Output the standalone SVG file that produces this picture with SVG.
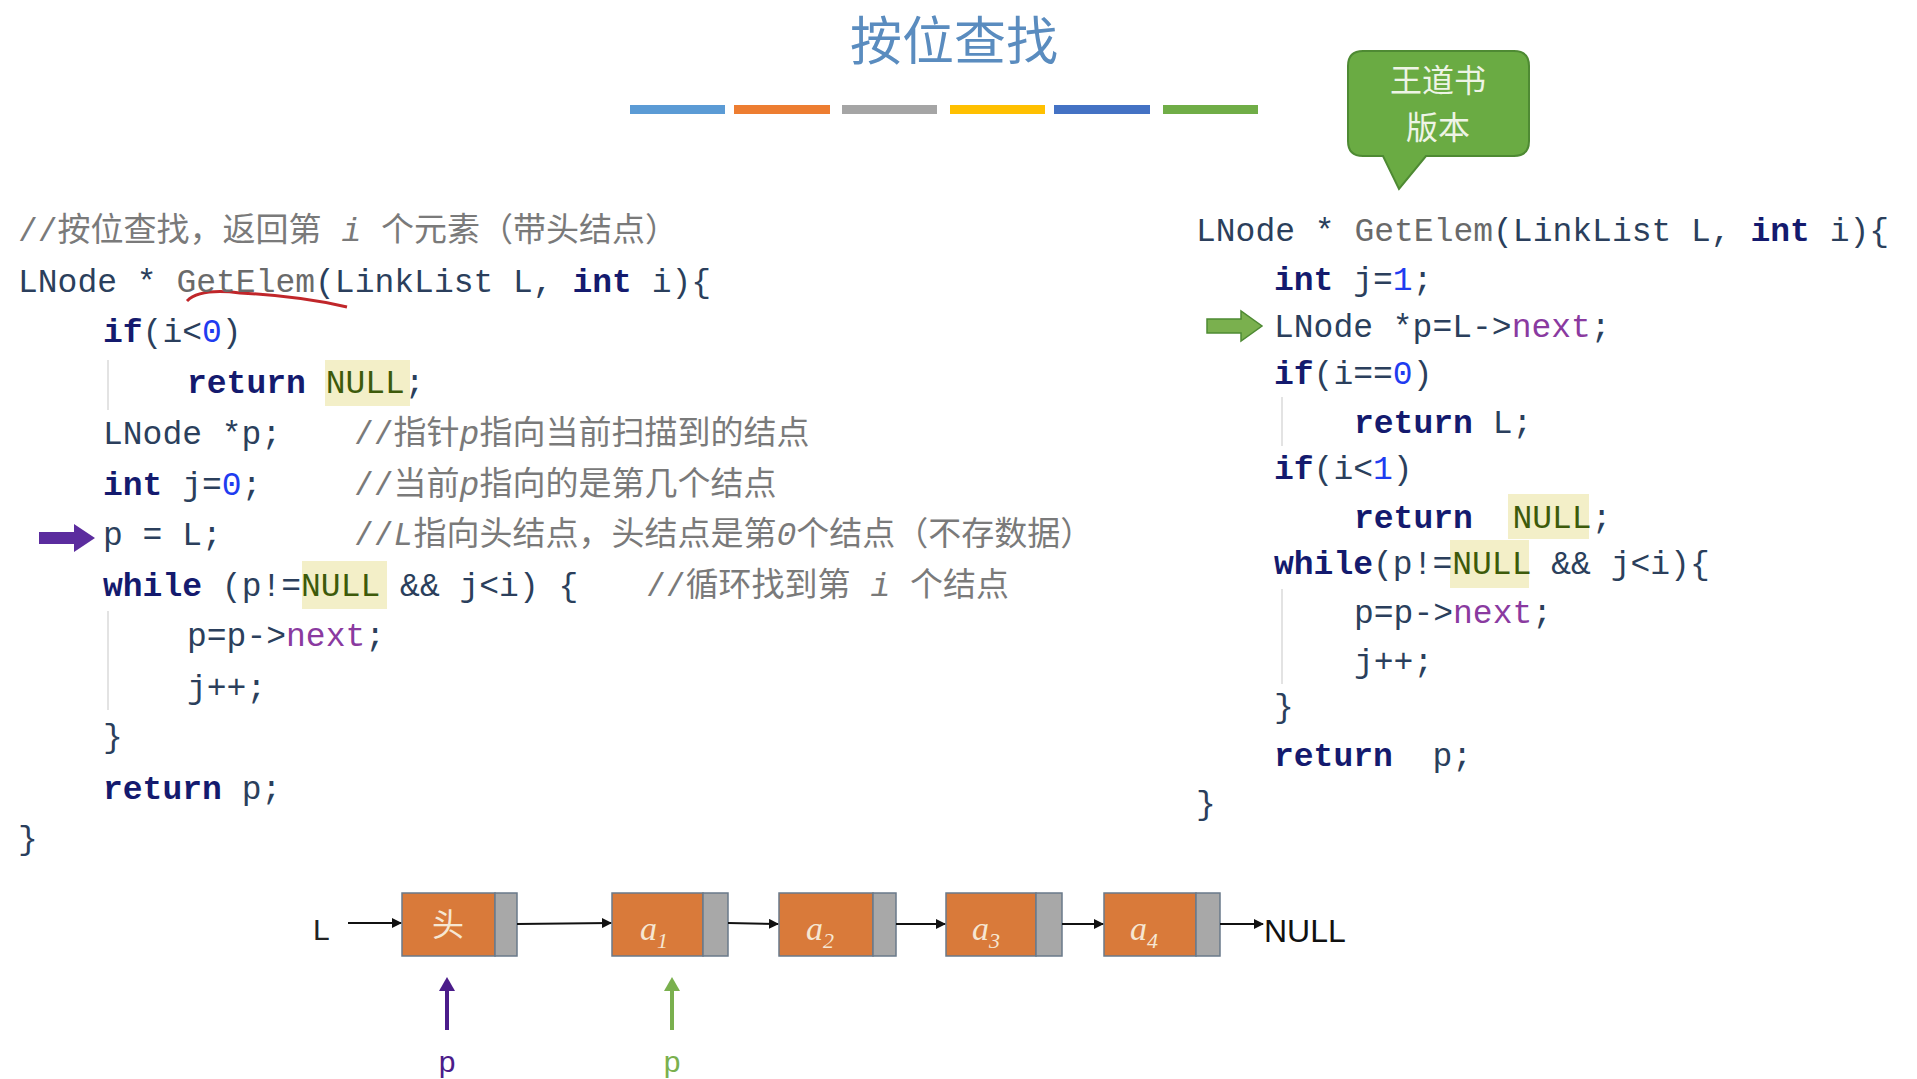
<svg xmlns="http://www.w3.org/2000/svg" width="1917" height="1079" viewBox="0 0 1917 1079">
<style>
.code{font-family:"Liberation Mono","Noto Sans CJK SC",monospace;font-size:33px;fill:#2b3f5c;white-space:pre}
.kw{font-weight:bold;fill:#141a6e}
.cm{fill:#7a7a7a}
.num{fill:#1f3cf0}
.nl{fill:#3d5a0a}
.nx{fill:#8a3aa0}
.fn{fill:#6a6a6a}
.hl{fill:#f3efc8}
.guide{stroke:#e3e3e3;stroke-width:2}
.node{fill:#d97a3a;stroke:#6a7a8a;stroke-width:1.5}
.ptr{fill:#a8a8a8;stroke:#6a7a8a;stroke-width:1.5}
.lbl{font-family:"Liberation Serif",serif;font-style:italic;font-size:34px;fill:#f6e7d3}
.link{stroke:#111;stroke-width:2;fill:none;marker-end:url(#ah)}
</style>
<defs>
<marker id="ah" markerWidth="10" markerHeight="10" refX="9" refY="5" orient="auto" markerUnits="userSpaceOnUse"><path d="M0,0 L10,5 L0,10 z" fill="#111"/></marker>
<marker id="ahp" markerWidth="14" markerHeight="16" refX="7" refY="8" orient="auto" markerUnits="userSpaceOnUse"><path d="M0,0 L14,8 L0,16 z" fill="#4b1c8a"/></marker>
<marker id="ahg" markerWidth="14" markerHeight="16" refX="7" refY="8" orient="auto" markerUnits="userSpaceOnUse"><path d="M0,0 L14,8 L0,16 z" fill="#7ab04e"/></marker>
</defs>
<rect width="1917" height="1079" fill="#fff"/>
<g id="title">
<text x="954" y="60" text-anchor="middle" font-family="Noto Sans CJK SC,sans-serif" font-size="52" fill="#5a8cbf">按位查找</text>
<rect x="630" y="105" width="95" height="9" fill="#5b9bd5"/>
<rect x="734" y="105" width="96" height="9" fill="#ed7d31"/>
<rect x="842" y="105" width="95" height="9" fill="#a5a5a5"/>
<rect x="950" y="105" width="95" height="9" fill="#ffc000"/>
<rect x="1054" y="105" width="96" height="9" fill="#4472c4"/>
<rect x="1163" y="105" width="95" height="9" fill="#70ad47"/>
</g>
<g id="callout">
<path d="M1363,51 H1514 Q1529,51 1529,66 V141 Q1529,156 1514,156 H1426 L1399,189 L1383,156 H1363 Q1348,156 1348,141 V66 Q1348,51 1363,51 Z" fill="#6aab43" stroke="#4e8a33" stroke-width="2"/>
<text x="1438" y="92" text-anchor="middle" font-family="Noto Sans CJK SC,sans-serif" font-size="32" fill="#eef4e6">王道书</text>
<text x="1438" y="139" text-anchor="middle" font-family="Noto Sans CJK SC,sans-serif" font-size="32" fill="#eef4e6">版本</text>
</g>
<g id="left-code">
<rect class="hl" x="325" y="360" width="85" height="46"/>
<rect class="hl" x="302" y="561" width="85" height="48"/>
<line class="guide" x1="108" y1="360" x2="108" y2="410"/>
<line class="guide" x1="108" y1="611" x2="108" y2="710"/>
<path d="M187,301 Q200,288 240,293 Q300,296 347,307" stroke="#c0262a" stroke-width="3" fill="none"/>
<text class="code"><tspan x="18" y="241" class="cm">//按位查找，返回第 <tspan font-style="italic">i</tspan> 个元素（带头结点）</tspan>
<tspan x="18" y="292">LNode * <tspan class="fn">GetElem</tspan>(LinkList L, <tspan class="kw">int</tspan> i){</tspan>
<tspan x="103" y="342"><tspan class="kw">if</tspan>(i&lt;<tspan class="num">0</tspan>)</tspan>
<tspan x="187" y="393"><tspan class="kw">return</tspan> <tspan class="nl">NULL</tspan>;</tspan>
<tspan x="103" y="444">LNode *p;</tspan><tspan x="354" y="444" class="cm">//指针<tspan font-style="italic">p</tspan>指向当前扫描到的结点</tspan>
<tspan x="103" y="495"><tspan class="kw">int</tspan> j=<tspan class="num">0</tspan>;</tspan><tspan x="354" y="495" class="cm">//当前<tspan font-style="italic">p</tspan>指向的是第几个结点</tspan>
<tspan x="103" y="545">p = L;</tspan><tspan x="354" y="545" class="cm">//<tspan font-style="italic">L</tspan>指向头结点，头结点是第<tspan font-style="italic">0</tspan>个结点（不存数据）</tspan>
<tspan x="103" y="596"><tspan class="kw">while</tspan> (p!=<tspan class="nl">NULL</tspan> &amp;&amp; j&lt;i) {</tspan><tspan x="646" y="596" class="cm">//循环找到第 <tspan font-style="italic">i</tspan> 个结点</tspan>
<tspan x="187" y="646">p=p-&gt;<tspan class="nx">next</tspan>;</tspan>
<tspan x="187" y="698">j++;</tspan>
<tspan x="103" y="747">}</tspan>
<tspan x="103" y="799"><tspan class="kw">return</tspan> p;</tspan>
<tspan x="18" y="849">}</tspan></text>
<path d="M39,532 H74 V524 L95,538 L74,552 V544 H39 Z" fill="#5b2c9e"/>
</g>
<g id="right-code">
<rect class="hl" x="1508" y="494" width="81" height="45"/>
<rect class="hl" x="1450" y="540" width="79" height="48"/>
<line class="guide" x1="1282" y1="397" x2="1282" y2="446"/>
<line class="guide" x1="1282" y1="589" x2="1282" y2="684"/>
<text class="code"><tspan x="1196" y="241">LNode * <tspan class="fn">GetElem</tspan>(LinkList L, <tspan class="kw">int</tspan> i){</tspan>
<tspan x="1274" y="290"><tspan class="kw">int</tspan> j=<tspan class="num">1</tspan>;</tspan>
<tspan x="1274" y="337">LNode *p=L-&gt;<tspan class="nx">next</tspan>;</tspan>
<tspan x="1274" y="384"><tspan class="kw">if</tspan>(i==<tspan class="num">0</tspan>)</tspan>
<tspan x="1354" y="433"><tspan class="kw">return</tspan> L;</tspan>
<tspan x="1274" y="479"><tspan class="kw">if</tspan>(i&lt;<tspan class="num">1</tspan>)</tspan>
<tspan x="1354" y="528"><tspan class="kw">return</tspan>  <tspan class="nl">NULL</tspan>;</tspan>
<tspan x="1274" y="574"><tspan class="kw">while</tspan>(p!=<tspan class="nl">NULL</tspan> &amp;&amp; j&lt;i){</tspan>
<tspan x="1354" y="623">p=p-&gt;<tspan class="nx">next</tspan>;</tspan>
<tspan x="1354" y="672">j++;</tspan>
<tspan x="1274" y="717">}</tspan>
<tspan x="1274" y="766"><tspan class="kw">return</tspan>  p;</tspan>
<tspan x="1196" y="814">}</tspan></text>
<path d="M1207,319 H1241 V311 L1262,326 L1241,341 V333 H1207 Z" fill="#7ab04e" stroke="#4e8a33" stroke-width="1.5"/>
</g>
<g id="n-head"><rect class="node" x="402" y="893" width="93" height="63"/><rect class="ptr" x="495" y="893" width="22" height="63"/><text x="448" y="936" text-anchor="middle" font-family="Noto Sans CJK SC,sans-serif" font-size="32" fill="#f6e7d3">头</text></g>
<g id="n-a1"><rect class="node" x="612" y="893" width="91" height="63"/><rect class="ptr" x="703" y="893" width="25" height="63"/><text class="lbl" x="640" y="940">a<tspan font-size="22" dy="8">1</tspan></text></g>
<g id="n-a2"><rect class="node" x="779" y="893" width="94" height="63"/><rect class="ptr" x="873" y="893" width="23" height="63"/><text class="lbl" x="806" y="940">a<tspan font-size="22" dy="8">2</tspan></text></g>
<g id="n-a3"><rect class="node" x="946" y="893" width="90" height="63"/><rect class="ptr" x="1036" y="893" width="26" height="63"/><text class="lbl" x="972" y="940">a<tspan font-size="22" dy="8">3</tspan></text></g>
<g id="n-a4"><rect class="node" x="1104" y="893" width="92" height="63"/><rect class="ptr" x="1196" y="893" width="24" height="63"/><text class="lbl" x="1130" y="940">a<tspan font-size="22" dy="8">4</tspan></text></g>
<g id="labels" font-family="Liberation Sans,sans-serif">
<text x="313" y="940" font-size="30" fill="#222">L</text>
<text x="1264" y="942" font-size="32" fill="#111">NULL</text>
<text x="447" y="1072" text-anchor="middle" font-size="30" fill="#4b1c8a">p</text>
<text x="672" y="1072" text-anchor="middle" font-size="30" fill="#7ab04e">p</text>
</g>
<g id="connectors">
<line class="link" x1="348" y1="923" x2="401" y2="923"/>
<line class="link" x1="517" y1="924" x2="611" y2="923"/>
<line class="link" x1="728" y1="923" x2="778" y2="924"/>
<line class="link" x1="896" y1="924" x2="945" y2="924"/>
<line class="link" x1="1062" y1="924" x2="1103" y2="924"/>
<line class="link" x1="1220" y1="924" x2="1263" y2="924"/>
<line x1="447" y1="1030" x2="447" y2="984" stroke="#4b1c8a" stroke-width="4" marker-end="url(#ahp)"/>
<line x1="672" y1="1030" x2="672" y2="984" stroke="#7ab04e" stroke-width="4" marker-end="url(#ahg)"/>
</g>
</svg>
